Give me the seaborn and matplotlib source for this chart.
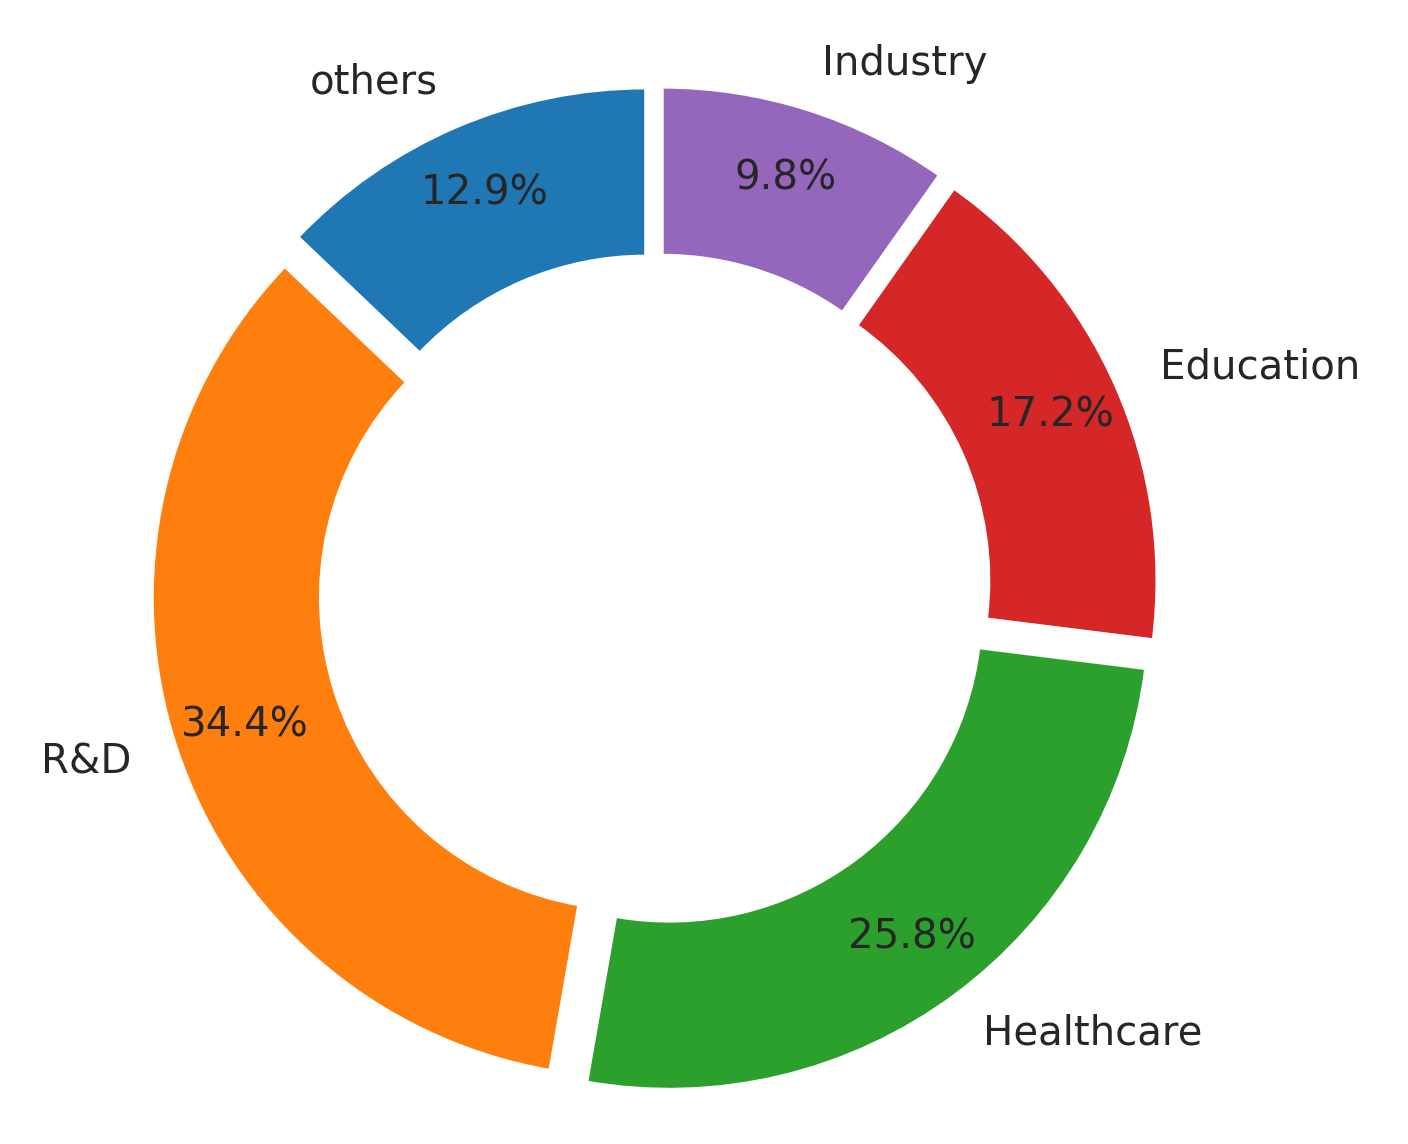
import matplotlib
matplotlib.use("Agg")
import matplotlib.pyplot as plt
import seaborn as sns

# data
labels = ["others", "R&D", "Healthcare", "Education", "Industry"]
shares = [12.9, 34.4, 25.8, 17.2, 9.8]

sns.set_theme(style="white")
plt.rcParams["font.family"] = ["DejaVu Sans"]
colors = sns.color_palette("tab10", 5)
colors = [colors[0], colors[1], colors[2], colors[3], colors[4]]

fig = plt.figure(figsize=(7.04, 5.72), dpi=200)
ax = fig.add_axes([0, 0, 1, 1])

ax.pie(
    shares,
    labels=labels,
    colors=colors,
    autopct="%1.1f%%",
    startangle=90,
    pctdistance=0.85,
    labeldistance=1.1,
    explode=[0.05] * len(shares),
    wedgeprops=dict(width=0.35),
    textprops=dict(fontsize=14.5, color="0.15"),
)
ax.set_aspect("equal")
ax.set_xlim(-1.365, 1.569)
ax.set_ylim(-1.154, 1.229)
ax.set_axis_off()

fig.savefig("out.png", dpi=200)
